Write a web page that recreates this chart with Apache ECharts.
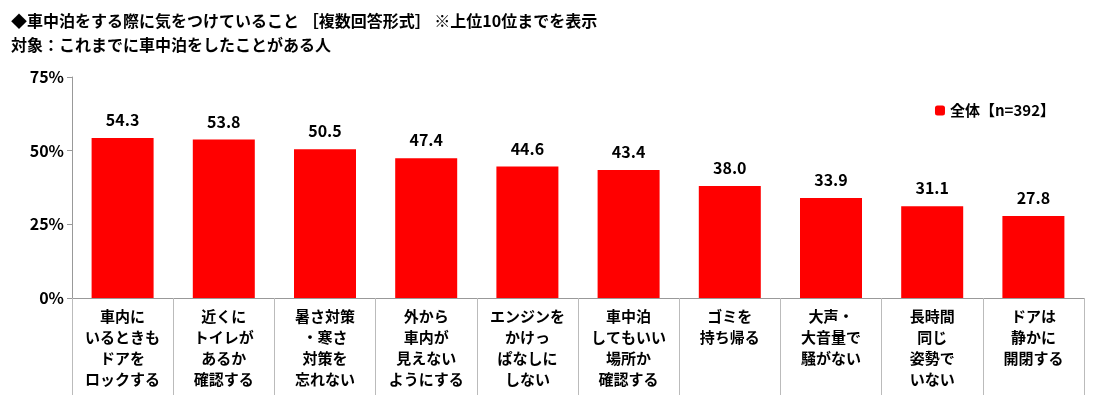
<!DOCTYPE html>
<html lang="ja">
<head>
<meta charset="UTF-8">
<style>
  body { margin: 0; background: #fff; }
  #chart { width: 1100px; height: 411px; }
</style>
<script src="https://cdn.jsdelivr.net/npm/echarts@6/dist/echarts.min.js"></script>
</head>
<body>
<div id="chart"></div>
<script>
  // カテゴリとデータ
  var categories = [
    '車内に\nいるときも\nドアを\nロックする',
    '近くに\nトイレが\nあるか\n確認する',
    '暑さ対策\n・寒さ\n対策を\n忘れない',
    '外から\n車内が\n見えない\nようにする',
    'エンジンを\nかけっ\nぱなしに\nしない',
    '車中泊\nしてもいい\n場所か\n確認する',
    'ゴミを\n持ち帰る',
    '大声・\n大音量で\n騒がない',
    '長時間\n同じ\n姿勢で\nいない',
    'ドアは\n静かに\n開閉する'
  ];
  var values = [54.3, 53.8, 50.5, 47.4, 44.6, 43.4, 38.0, 33.9, 31.1, 27.8];
  var yTicks = [0, 25, 50, 75];

  var font = '"Noto Sans CJK JP", sans-serif';
  var myChart = echarts.init(document.getElementById('chart'));
  var option = {
    textStyle: { fontFamily: font },
    title: {
      text: '◆車中泊をする際に気をつけていること ［複数回答形式］ ※上位10位までを表示\n対象：これまでに車中泊をしたことがある人',
      left: 6, top: 4,
      textStyle: { fontSize: 16, fontWeight: 'bold', color: '#000', lineHeight: 24, fontFamily: font }
    },
    legend: {
      data: ['全体【n=392】'],
      right: 40, top: 98,
      itemWidth: 10, itemHeight: 10,
      textStyle: { fontSize: 15, fontWeight: 'bold', color: '#000' }
    },
    grid: { left: 72, right: 16, top: 77, bottom: 113 },
    xAxis: {
      type: 'category',
      data: categories,
      axisLine: { lineStyle: { color: '#999' } },
      axisTick: { show: true, interval: 0, length: 97, lineStyle: { color: '#bbb' } },
      axisLabel: {
        interval: 0, color: '#000', fontSize: 15, fontWeight: 'bold',
        lineHeight: 21, verticalAlign: 'top', margin: 8
      }
    },
    yAxis: {
      type: 'value', min: yTicks[0], max: yTicks[yTicks.length - 1], interval: 25,
      axisLine: { show: true, lineStyle: { color: '#999' } },
      axisTick: { show: true, lineStyle: { color: '#999' } },
      splitLine: { show: false },
      axisLabel: { formatter: '{value}%', color: '#000', fontSize: 16, fontWeight: 'bold' }
    },
    series: [{
      name: '全体【n=392】',
      type: 'bar',
      data: values,
      barWidth: 62,
      itemStyle: { color: '#ff0000' },
      label: {
        show: true, position: 'top', distance: 10,
        formatter: function (p) { return p.value.toFixed(1); },
        color: '#000', fontSize: 16, fontWeight: 'bold'
      }
    }]
  };
  myChart.setOption(option);
</script>
</body>
</html>
